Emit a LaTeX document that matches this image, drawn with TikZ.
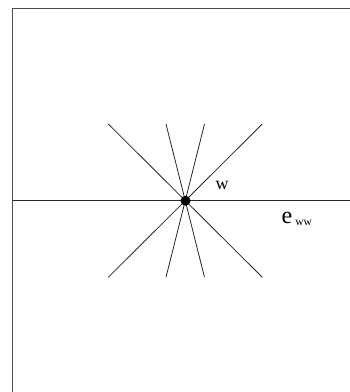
\documentclass[tikz,border=0pt]{standalone}
\usepackage{fontspec}
\setmainfont{Liberation Serif}
\tikzset{
  ray/.style={draw=black!85, line width=0.8pt},
  frame/.style={draw=black!70, line width=1.2pt},
  lbl/.style={inner sep=0pt, text=black}
}
\begin{document}
\begin{tikzpicture}[x=1pt,y=1pt]
\useasboundingbox (0,0) rectangle (350,392);
% frame (only left and top visible)
\coordinate (fl) at (12.5,0);
\coordinate (ftl) at (12.5,383.3);
\coordinate (ftr) at (351,383.3);
\draw[frame] (fl) -- (ftl) -- (ftr);
% center
\coordinate (c) at (185.5,191.3);
% ray ends
\coordinate (hl) at (12.5,191.3);
\coordinate (hr) at (351,191.3);
\coordinate (a1) at (108.3,268);
\coordinate (a2) at (262.3,114.7);
\coordinate (b1) at (262.3,268);
\coordinate (b2) at (108.3,114.7);
\coordinate (s1) at (166,268);
\coordinate (s2) at (204.5,114.7);
\coordinate (t1) at (204.5,268);
\coordinate (t2) at (166,114.7);
\draw[ray] (hl) -- (hr);
\draw[ray] (a1) -- (a2);
\draw[ray] (b1) -- (b2);
\draw[ray] (s1) -- (s2);
\draw[ray] (t1) -- (t2);
\node[circle, fill=black, inner sep=0pt, minimum size=10pt] (dot) at (c) {};
\node[lbl, anchor=base west] (w) at (215.5,202.5) {\fontsize{18}{18}\selectfont w};
\node[lbl, anchor=base west] (e) at (281.5,168.5) {\fontsize{24}{24}\selectfont e\hspace{3pt}\fontsize{11.5}{11.5}\selectfont\raisebox{-2pt}{ww}};
\end{tikzpicture}
\end{document}
